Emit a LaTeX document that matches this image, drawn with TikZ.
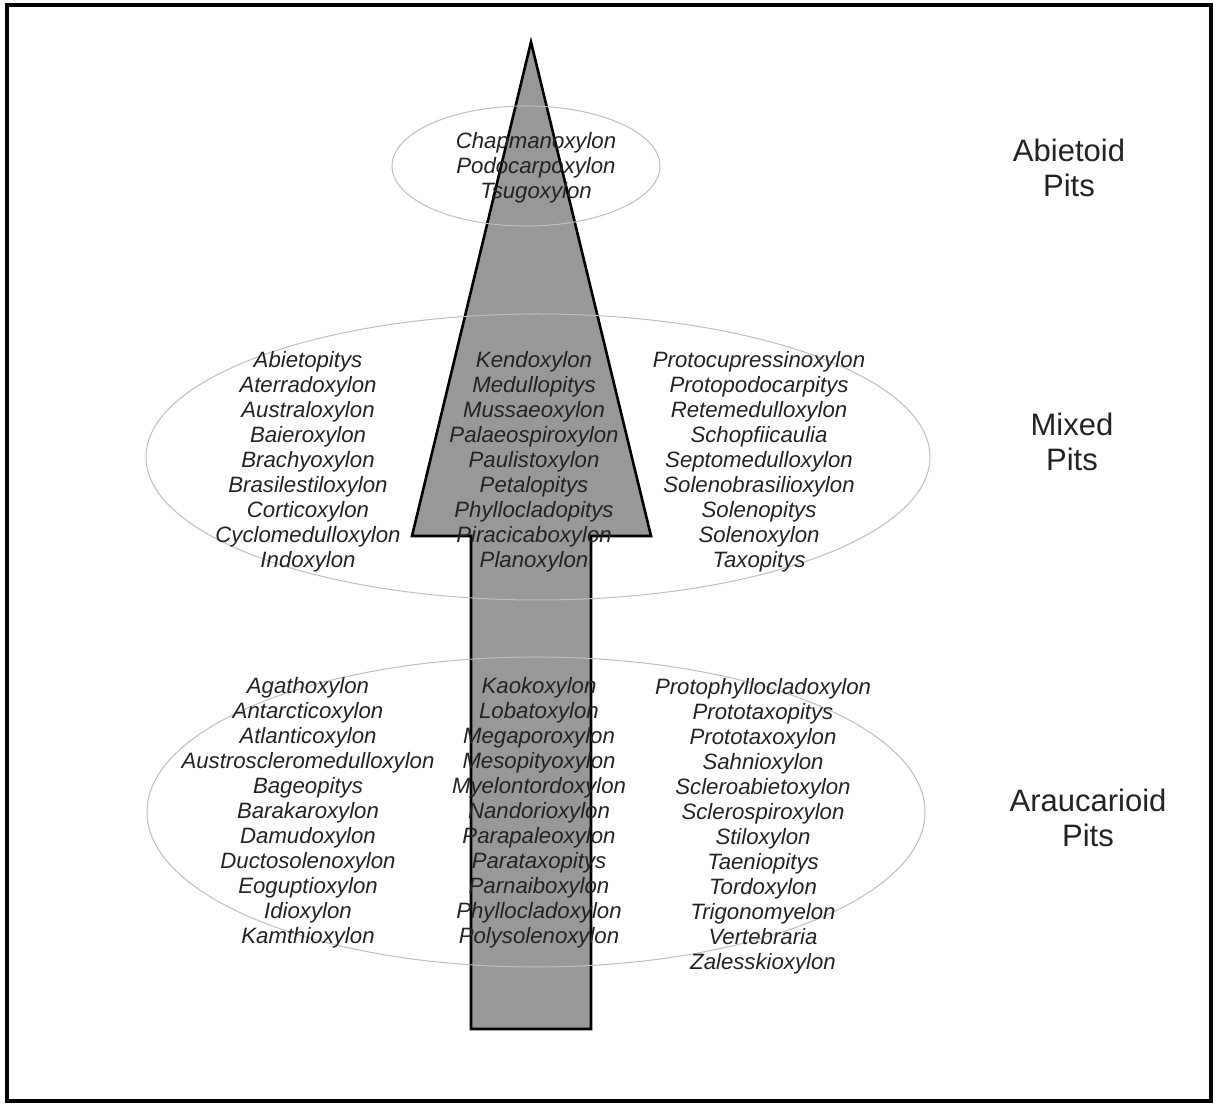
\documentclass[tikz,border=0pt]{standalone}
\usepackage{fontspec}
\setmainfont{Liberation Sans}
\usepackage{xcolor}
\usepackage{tikz}
\usetikzlibrary{shapes.geometric, positioning}
\definecolor{stemgray}{RGB}{152,152,152}
\definecolor{zonegray}{RGB}{190,190,190}
\definecolor{textgray}{RGB}{35,35,35}
\tikzset{
    genus/.style={
        font=\fontsize{11.1}{12.5}\selectfont\itshape,
        text=textgray,
        align=center,
        inner sep=0pt
    },
    pitlabel/.style={
        font=\fontsize{15.5}{17.5}\selectfont,
        text=textgray,
        align=center,
        inner sep=0pt
    },
    pitzone/.style={
        ellipse,
        draw=zonegray,
        line width=0.5pt,
        inner sep=0pt
    },
    stem/.style={
        draw=black,
        line width=1.3pt,
        fill=stemgray,
        line join=miter
    }
}

\begin{document}
\begin{tikzpicture}[x=0.5pt, y=-0.5pt]

\useasboundingbox (0,0) rectangle (1216,1106);

% Frame
\draw[line width=2pt] (7,5) rectangle (1211,1101);

% Arrow
\draw[stem] (531,42) -- (651,536) -- (591,536) -- (591,1029)
    -- (471,1029) -- (471,536) -- (412,536) -- cycle;

% Pit zones
\node[pitzone, minimum width=134pt, minimum height=60pt] (abiet) at (526,166) {};
\node[pitzone, minimum width=392pt, minimum height=143pt] (mixed) at (538,457) {};
\node[pitzone, minimum width=389pt, minimum height=155pt] (arauc) at (536,812) {};

% Abietoid genera
\node[genus] (abietC) at (536,168) {Chapmanoxylon\\Podocarpoxylon\\Tsugoxylon};

% Mixed genera
\node[genus] (mixedL) at (308,462) {Abietopitys\\Aterradoxylon\\Australoxylon\\Baieroxylon\\Brachyoxylon\\Brasilestiloxylon\\Corticoxylon\\Cyclomedulloxylon\\Indoxylon};
\node[genus] (mixedC) at (534,462) {Kendoxylon\\Medullopitys\\Mussaeoxylon\\Palaeospiroxylon\\Paulistoxylon\\Petalopitys\\Phyllocladopitys\\Piracicaboxylon\\Planoxylon};
\node[genus] (mixedR) at (759,462) {Protocupressinoxylon\\Protopodocarpitys\\Retemedulloxylon\\Schopfiicaulia\\Septomedulloxylon\\Solenobrasilioxylon\\Solenopitys\\Solenoxylon\\Taxopitys};

% Araucarioid genera
\node[genus] (araucL) at (308,813) {Agathoxylon\\Antarcticoxylon\\Atlanticoxylon\\Austroscleromedulloxylon\\Bageopitys\\Barakaroxylon\\Damudoxylon\\Ductosolenoxylon\\Eoguptioxylon\\Idioxylon\\Kamthioxylon};
\node[genus] (araucC) at (539,813) {Kaokoxylon\\Lobatoxylon\\Megaporoxylon\\Mesopityoxylon\\Myelontordoxylon\\Nandorioxylon\\Parapaleoxylon\\Parataxopitys\\Parnaiboxylon\\Phyllocladoxylon\\Polysolenoxylon};
\node[genus] (araucR) at (763,826) {Protophyllocladoxylon\\Prototaxopitys\\Prototaxoxylon\\Sahnioxylon\\Scleroabietoxylon\\Sclerospiroxylon\\Stiloxylon\\Taeniopitys\\Tordoxylon\\Trigonomyelon\\Vertebraria\\Zalesskioxylon};

% Zone labels
\node[pitlabel] (abietLab) at (1069,168) {Abietoid\\Pits};
\node[pitlabel] (mixedLab) at (1072,442) {Mixed\\Pits};
\node[pitlabel] (araucLab) at (1088,818) {Araucarioid\\Pits};

\end{tikzpicture}
\end{document}
